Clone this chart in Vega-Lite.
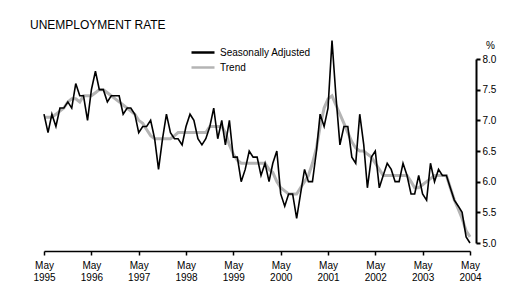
{
  "$schema": "https://vega.github.io/schema/vega-lite/v6.json",
  "width": 426,
  "height": 184,
  "autosize": "none",
  "padding": {"left": 44, "top": 59, "right": 49, "bottom": 52},
  "background": "white",
  "title": {
    "text": "UNEMPLOYMENT RATE",
    "anchor": "start",
    "frame": "group",
    "dx": -14,
    "fontSize": 12,
    "font": "Liberation Sans",
    "fontWeight": "normal",
    "color": "black",
    "offset": 5
  },
  "config": {
    "view": {"stroke": null},
    "axis": {"grid": false, "labelFont": "Liberation Sans", "labelFontSize": 10, "labelColor": "black", "domainColor": "black", "tickColor": "black"}
  },
  "data": {
    "values": [
      {"d": "1995/05/01", "sa": 7.1, "tr": 7.05},
      {"d": "1995/06/01", "sa": 6.8, "tr": 7.05},
      {"d": "1995/07/01", "sa": 7.1, "tr": 7.05},
      {"d": "1995/08/01", "sa": 6.9, "tr": 7.1},
      {"d": "1995/09/01", "sa": 7.2, "tr": 7.15},
      {"d": "1995/10/01", "sa": 7.2, "tr": 7.2},
      {"d": "1995/11/01", "sa": 7.3, "tr": 7.3},
      {"d": "1995/12/01", "sa": 7.2, "tr": 7.35},
      {"d": "1996/01/01", "sa": 7.6, "tr": 7.35},
      {"d": "1996/02/01", "sa": 7.4, "tr": 7.3},
      {"d": "1996/03/01", "sa": 7.4, "tr": 7.4},
      {"d": "1996/04/01", "sa": 7.0, "tr": 7.4},
      {"d": "1996/05/01", "sa": 7.5, "tr": 7.4},
      {"d": "1996/06/01", "sa": 7.8, "tr": 7.45},
      {"d": "1996/07/01", "sa": 7.5, "tr": 7.5},
      {"d": "1996/08/01", "sa": 7.5, "tr": 7.5},
      {"d": "1996/09/01", "sa": 7.3, "tr": 7.45},
      {"d": "1996/10/01", "sa": 7.4, "tr": 7.4},
      {"d": "1996/11/01", "sa": 7.4, "tr": 7.35},
      {"d": "1996/12/01", "sa": 7.4, "tr": 7.3},
      {"d": "1997/01/01", "sa": 7.1, "tr": 7.25},
      {"d": "1997/02/01", "sa": 7.2, "tr": 7.2},
      {"d": "1997/03/01", "sa": 7.2, "tr": 7.15},
      {"d": "1997/04/01", "sa": 7.1, "tr": 7.1},
      {"d": "1997/05/01", "sa": 6.8, "tr": 7.0},
      {"d": "1997/06/01", "sa": 6.9, "tr": 6.95},
      {"d": "1997/07/01", "sa": 6.9, "tr": 6.85},
      {"d": "1997/08/01", "sa": 7.0, "tr": 6.75},
      {"d": "1997/09/01", "sa": 6.7, "tr": 6.7},
      {"d": "1997/10/01", "sa": 6.2, "tr": 6.7},
      {"d": "1997/11/01", "sa": 6.7, "tr": 6.7},
      {"d": "1997/12/01", "sa": 7.1, "tr": 6.7},
      {"d": "1998/01/01", "sa": 6.8, "tr": 6.7},
      {"d": "1998/02/01", "sa": 6.7, "tr": 6.75},
      {"d": "1998/03/01", "sa": 6.7, "tr": 6.8},
      {"d": "1998/04/01", "sa": 6.6, "tr": 6.8},
      {"d": "1998/05/01", "sa": 6.9, "tr": 6.8},
      {"d": "1998/06/01", "sa": 7.1, "tr": 6.8},
      {"d": "1998/07/01", "sa": 7.0, "tr": 6.8},
      {"d": "1998/08/01", "sa": 6.7, "tr": 6.8},
      {"d": "1998/09/01", "sa": 6.6, "tr": 6.8},
      {"d": "1998/10/01", "sa": 6.7, "tr": 6.8},
      {"d": "1998/11/01", "sa": 6.9, "tr": 6.9},
      {"d": "1998/12/01", "sa": 7.2, "tr": 6.9},
      {"d": "1999/01/01", "sa": 6.7, "tr": 6.9},
      {"d": "1999/02/01", "sa": 7.0, "tr": 6.9},
      {"d": "1999/03/01", "sa": 6.6, "tr": 6.8},
      {"d": "1999/04/01", "sa": 7.0, "tr": 6.6},
      {"d": "1999/05/01", "sa": 6.4, "tr": 6.45},
      {"d": "1999/06/01", "sa": 6.4, "tr": 6.35},
      {"d": "1999/07/01", "sa": 6.0, "tr": 6.3},
      {"d": "1999/08/01", "sa": 6.2, "tr": 6.3},
      {"d": "1999/09/01", "sa": 6.5, "tr": 6.3},
      {"d": "1999/10/01", "sa": 6.4, "tr": 6.3},
      {"d": "1999/11/01", "sa": 6.4, "tr": 6.3},
      {"d": "1999/12/01", "sa": 6.1, "tr": 6.3},
      {"d": "2000/01/01", "sa": 6.3, "tr": 6.3},
      {"d": "2000/02/01", "sa": 6.0, "tr": 6.2},
      {"d": "2000/03/01", "sa": 6.3, "tr": 6.15},
      {"d": "2000/04/01", "sa": 6.5, "tr": 6.0},
      {"d": "2000/05/01", "sa": 5.8, "tr": 5.9},
      {"d": "2000/06/01", "sa": 5.6, "tr": 5.85},
      {"d": "2000/07/01", "sa": 5.8, "tr": 5.8},
      {"d": "2000/08/01", "sa": 5.8, "tr": 5.8},
      {"d": "2000/09/01", "sa": 5.4, "tr": 5.8},
      {"d": "2000/10/01", "sa": 5.8, "tr": 5.9},
      {"d": "2000/11/01", "sa": 6.2, "tr": 6.0},
      {"d": "2000/12/01", "sa": 6.0, "tr": 6.1},
      {"d": "2001/01/01", "sa": 6.0, "tr": 6.3},
      {"d": "2001/02/01", "sa": 6.5, "tr": 6.55},
      {"d": "2001/03/01", "sa": 7.1, "tr": 6.9},
      {"d": "2001/04/01", "sa": 6.9, "tr": 7.2},
      {"d": "2001/05/01", "sa": 7.2, "tr": 7.35},
      {"d": "2001/06/01", "sa": 8.3, "tr": 7.4},
      {"d": "2001/07/01", "sa": 7.4, "tr": 7.25},
      {"d": "2001/08/01", "sa": 6.6, "tr": 7.1},
      {"d": "2001/09/01", "sa": 6.9, "tr": 6.95},
      {"d": "2001/10/01", "sa": 6.9, "tr": 6.8},
      {"d": "2001/11/01", "sa": 6.4, "tr": 6.65},
      {"d": "2001/12/01", "sa": 6.3, "tr": 6.55},
      {"d": "2002/01/01", "sa": 7.1, "tr": 6.5},
      {"d": "2002/02/01", "sa": 6.6, "tr": 6.5},
      {"d": "2002/03/01", "sa": 5.9, "tr": 6.45},
      {"d": "2002/04/01", "sa": 6.4, "tr": 6.4},
      {"d": "2002/05/01", "sa": 6.5, "tr": 6.3},
      {"d": "2002/06/01", "sa": 5.9, "tr": 6.2},
      {"d": "2002/07/01", "sa": 6.1, "tr": 6.1},
      {"d": "2002/08/01", "sa": 6.3, "tr": 6.1},
      {"d": "2002/09/01", "sa": 6.2, "tr": 6.1},
      {"d": "2002/10/01", "sa": 6.0, "tr": 6.1},
      {"d": "2002/11/01", "sa": 6.0, "tr": 6.1},
      {"d": "2002/12/01", "sa": 6.3, "tr": 6.1},
      {"d": "2003/01/01", "sa": 6.1, "tr": 6.1},
      {"d": "2003/02/01", "sa": 5.8, "tr": 6.0},
      {"d": "2003/03/01", "sa": 5.8, "tr": 5.9},
      {"d": "2003/04/01", "sa": 6.1, "tr": 5.9},
      {"d": "2003/05/01", "sa": 5.8, "tr": 5.95},
      {"d": "2003/06/01", "sa": 5.7, "tr": 6.0},
      {"d": "2003/07/01", "sa": 6.3, "tr": 6.05},
      {"d": "2003/08/01", "sa": 6.0, "tr": 6.1},
      {"d": "2003/09/01", "sa": 6.2, "tr": 6.1},
      {"d": "2003/10/01", "sa": 6.1, "tr": 6.1},
      {"d": "2003/11/01", "sa": 6.1, "tr": 6.1},
      {"d": "2003/12/01", "sa": 5.9, "tr": 5.9},
      {"d": "2004/01/01", "sa": 5.7, "tr": 5.7},
      {"d": "2004/02/01", "sa": 5.6, "tr": 5.55},
      {"d": "2004/03/01", "sa": 5.5, "tr": 5.4},
      {"d": "2004/04/01", "sa": 5.1, "tr": 5.2},
      {"d": "2004/05/01", "sa": 5.0, "tr": 5.1}
    ]
  },
  "transform": [
    {"fold": ["tr", "sa"], "as": ["series", "value"]}
  ],
  "encoding": {
    "x": {
      "field": "d",
      "type": "temporal",
      "title": null,
      "scale": {"domain": [{"year": 1995, "month": 5, "date": 1}, {"year": 2004, "month": 5, "date": 1}]},
      "axis": {
        "values": [
          {"year": 1995, "month": 5, "date": 1}, {"year": 1996, "month": 5, "date": 1},
          {"year": 1997, "month": 5, "date": 1}, {"year": 1998, "month": 5, "date": 1},
          {"year": 1999, "month": 5, "date": 1}, {"year": 2000, "month": 5, "date": 1},
          {"year": 2001, "month": 5, "date": 1}, {"year": 2002, "month": 5, "date": 1},
          {"year": 2003, "month": 5, "date": 1}, {"year": 2004, "month": 5, "date": 1}
        ],
        "labelExpr": "[timeFormat(datum.value, '%b'), timeFormat(datum.value, '%Y')]",
        "labelLineHeight": 12,
        "offset": 8,
        "domainWidth": 1.5,
        "tickWidth": 1.5,
        "tickSize": 4,
        "labelPadding": 5,
        "labelFlush": false,
        "labelOverlap": false
      }
    },
    "y": {
      "field": "value",
      "type": "quantitative",
      "scale": {"domain": [5, 8], "nice": false, "zero": false},
      "axis": {
        "orient": "right",
        "values": [5, 5.5, 6, 6.5, 7, 7.5, 8],
        "format": ".1f",
        "offset": 6,
        "domainWidth": 2,
        "tickWidth": 2,
        "tickSize": 4,
        "labelPadding": 2,
        "labelOverlap": false,
        "labelFlush": false,
        "title": "%",
        "titleAngle": 0,
        "titleX": 14,
        "titleY": -9,
        "titleAlign": "center",
        "titleBaseline": "bottom",
        "titleFont": "Liberation Sans",
        "titleFontSize": 10,
        "titleFontWeight": "normal",
        "titleColor": "black"
      }
    }
  },
  "layer": [
    {
      "transform": [{"filter": "datum.series == 'tr'"}],
      "mark": {"type": "line", "strokeWidth": 3, "clip": false},
      "encoding": {
        "color": {
          "datum": "Trend",
          "type": "nominal",
          "scale": {"domain": ["Seasonally Adjusted", "Trend"], "range": ["#000000", "#b4b4b4"]},
          "legend": {
            "title": null,
            "orient": "none",
            "legendX": 146,
            "legendY": -13,
            "symbolType": "stroke",
            "symbolSize": 529,
            "symbolStrokeWidth": 2.5,
            "labelFont": "Liberation Sans",
            "labelFontSize": 10,
            "labelColor": "black",
            "labelOffset": 4,
            "clipHeight": 13,
            "rowPadding": 2
          }
        }
      }
    },
    {
      "transform": [{"filter": "datum.series == 'sa'"}],
      "mark": {"type": "line", "strokeWidth": 1.6, "clip": false},
      "encoding": {
        "color": {"datum": "Seasonally Adjusted", "type": "nominal"}
      }
    }
  ]
}
